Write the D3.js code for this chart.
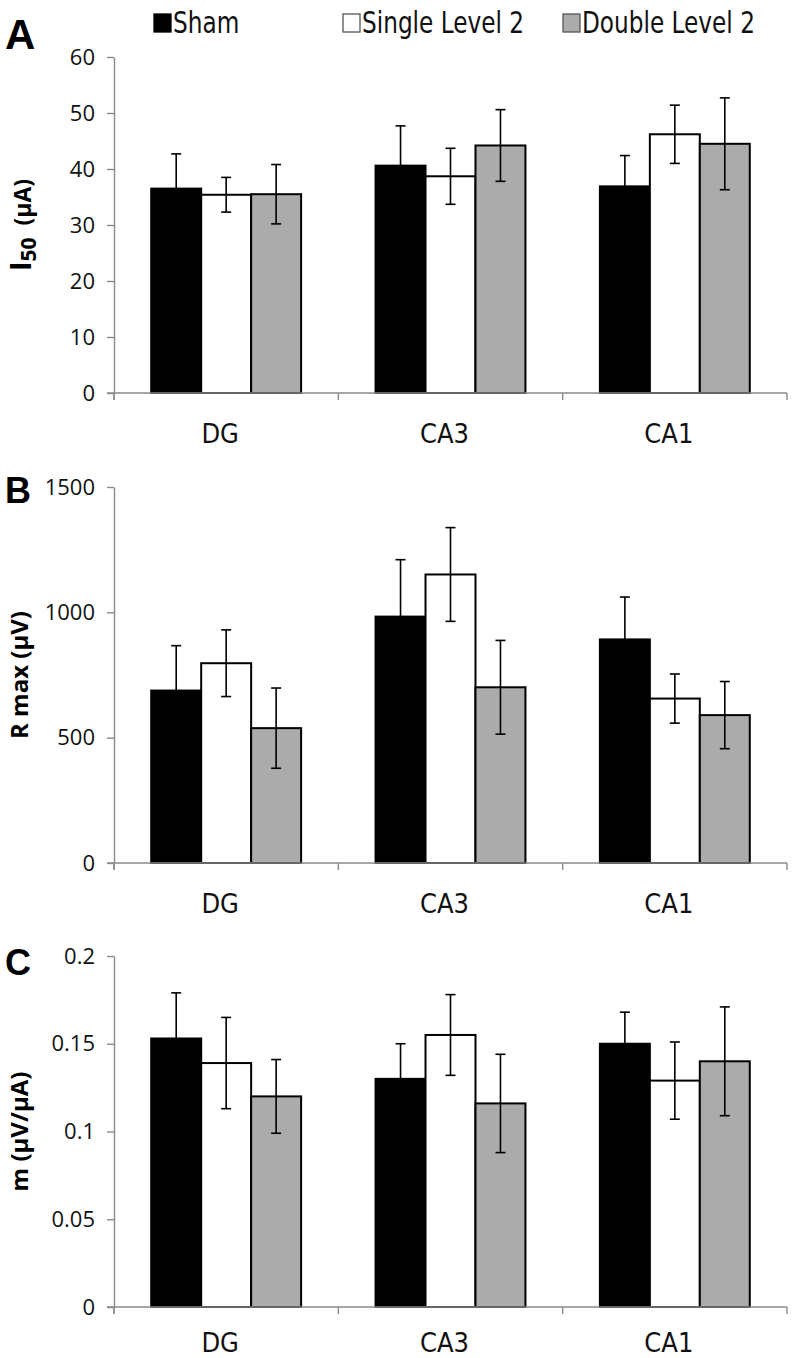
<!DOCTYPE html>
<html>
<head>
<meta charset="utf-8">
<script src="https://cdn.jsdelivr.net/npm/d3@7"></script>
<style>
  html, body { margin: 0; padding: 0; background: #fff; }
  svg { display: block; }
</style>
</head>
<body>
<div id="chart"></div>
<script>
// ---------- data ----------
const categories = ["DG", "CA3", "CA1"];
const seriesNames = ["Sham", "Single Level 2", "Double Level 2"];

const i50Sham = [36.5, 40.6, 36.9];
const i50ShamErr = [6.2, 7.1, 5.5];
const i50Single = [35.4, 38.7, 46.2];
const i50SingleErr = [3.1, 5.0, 5.2];
const i50Double = [35.5, 44.2, 44.5];
const i50DoubleErr = [5.3, 6.4, 8.2];

const rmaxSham = [688, 983, 892];
const rmaxShamErr = [179, 227, 169];
const rmaxSingle = [797, 1151, 656];
const rmaxSingleErr = [133, 187, 98];
const rmaxDouble = [538, 701, 590];
const rmaxDoubleErr = [160, 187, 134];

const slopeSham = [0.153, 0.130, 0.150];
const slopeShamErr = [0.026, 0.020, 0.018];
const slopeSingle = [0.139, 0.155, 0.129];
const slopeSingleErr = [0.026, 0.023, 0.022];
const slopeDouble = [0.120, 0.116, 0.140];
const slopeDoubleErr = [0.021, 0.028, 0.031];

const ticksA = [0, 10, 20, 30, 40, 50, 60];
const ticksB = [0, 500, 1000, 1500];
const ticksC = [0, 0.05, 0.1, 0.15, 0.2];

// ---------- style ----------
const W = 792, H = 1358;
const fills = { "Sham": "#000000", "Single Level 2": "#ffffff", "Double Level 2": "#ababab" };
const axisColor = "#8a8a8a";
const narrow = "'Liberation Sans Narrow','Arial Narrow','DejaVu Sans Condensed',sans-serif";
const tickFont = "'Open Sans','Liberation Sans',sans-serif";
const titleFont = "'Open Sans','Liberation Sans',sans-serif";

const svg = d3.select("#chart").append("svg").attr("width", W).attr("height", H);

const xLeft = 114, xRight = 787;
const x0 = d3.scaleBand().domain(categories).range([xLeft, xRight]).paddingInner(0).paddingOuter(0);
const x1 = d3.scaleBand().domain(seriesNames).range([0, x0.bandwidth()]).paddingInner(0).paddingOuter(0.745);

function build(means, errs) {
  return categories.map((c, i) => seriesNames.map((s, j) => ({ cat: c, series: s, value: means[j][i], err: errs[j][i] })));
}

const panels = [
  { top: 57, bottom: 393, domain: [0, 60], ticks: ticksA, letter: "A", letterY: 49, letterSize: 42, labelOff: 50,
    data: build([i50Sham, i50Single, i50Double], [i50ShamErr, i50SingleErr, i50DoubleErr]), title: "A" },
  { top: 487, bottom: 863, domain: [0, 1500], ticks: ticksB, letter: "B", letterY: 503, letterSize: 36, labelOff: 50,
    data: build([rmaxSham, rmaxSingle, rmaxDouble], [rmaxShamErr, rmaxSingleErr, rmaxDoubleErr]), title: "R max (µV)" },
  { top: 956, bottom: 1307, domain: [0, 0.2], ticks: ticksC, letter: "C", letterY: 975, letterSize: 36, labelOff: 45,
    data: build([slopeSham, slopeSingle, slopeDouble], [slopeShamErr, slopeSingleErr, slopeDoubleErr]), title: "m (µV/µA)" }
];

panels.forEach(p => {
  const g = svg.append("g");
  const y = d3.scaleLinear().domain(p.domain).range([p.bottom, p.top]);

  // y axis
  const yAxis = d3.axisLeft(y).tickValues(p.ticks).tickFormat(d => String(d)).tickSize(7).tickSizeOuter(0).tickPadding(12);
  const ga = g.append("g").attr("transform", `translate(${xLeft},0)`).call(yAxis);
  ga.select(".domain").attr("stroke", axisColor).attr("stroke-width", 1.4);
  ga.selectAll(".tick line").attr("stroke", axisColor).attr("stroke-width", 1.4);
  ga.selectAll(".tick text").attr("font-family", tickFont).attr("font-size", 22).attr("fill", "#111");
  g.append("line").attr("x1", xLeft).attr("x2", xLeft).attr("y1", y(0)).attr("y2", y(0) + 7)
    .attr("stroke", axisColor).attr("stroke-width", 1.4);

  // bars
  const groups = g.selectAll(".grp").data(p.data).join("g")
    .attr("transform", d => `translate(${x0(d[0].cat)},0)`);
  groups.selectAll("rect").data(d => d).join("rect")
    .attr("x", d => x1(d.series))
    .attr("width", x1.bandwidth())
    .attr("y", d => y(d.value))
    .attr("height", d => y(0) - y(d.value))
    .attr("fill", d => fills[d.series])
    .attr("stroke", "#000").attr("stroke-width", 2);

  // error bars
  const cap = 5;
  const eb = groups.selectAll(".eb").data(d => d).join("g").attr("class", "eb")
    .attr("transform", d => `translate(${x1(d.series) + x1.bandwidth() / 2},0)`);
  eb.append("line").attr("x1", 0).attr("x2", 0)
    .attr("y1", d => y(d.value + d.err)).attr("y2", d => y(d.value - d.err))
    .attr("stroke", "#000").attr("stroke-width", 1.6);
  eb.append("line").attr("x1", -cap).attr("x2", cap)
    .attr("y1", d => y(d.value + d.err)).attr("y2", d => y(d.value + d.err))
    .attr("stroke", "#000").attr("stroke-width", 1.6);
  eb.append("line").attr("x1", -cap).attr("x2", cap)
    .attr("y1", d => y(d.value - d.err)).attr("y2", d => y(d.value - d.err))
    .attr("stroke", "#000").attr("stroke-width", 1.6);

  // x axis line & boundary ticks
  g.append("line").attr("x1", xLeft - 7).attr("x2", xRight).attr("y1", y(0)).attr("y2", y(0))
    .attr("stroke", axisColor).attr("stroke-width", 1.6);
  const bounds = categories.map(c => x0(c)).concat([x0(categories[categories.length - 1]) + x0.bandwidth()]);
  g.selectAll(".bt").data(bounds).join("line")
    .attr("x1", d => d).attr("x2", d => d).attr("y1", y(0)).attr("y2", y(0) + 7)
    .attr("stroke", axisColor).attr("stroke-width", 1.4);

  // category labels
  g.selectAll(".cl").data(categories).join("text")
    .attr("x", d => x0(d) + x0.bandwidth() / 2 - 6)
    .attr("y", y(0) + p.labelOff)
    .attr("text-anchor", "middle")
    .attr("font-family", narrow).attr("font-size", 27).attr("fill", "#111")
    .text(d => d);

  // panel letter
  g.append("text").attr("x", 5).attr("y", p.letterY)
    .attr("font-family", "'Liberation Sans','Arial',sans-serif").attr("font-weight", "bold")
    .attr("font-size", p.letterSize).attr("fill", "#000").text(p.letter);

  // y title
  const mid = (p.top + p.bottom) / 2;
  const t = g.append("text")
    .attr("text-anchor", "middle").attr("font-family", titleFont).attr("font-weight", "bold")
    .attr("fill", "#000");
  if (p.title === "A") {
    t.attr("transform", `translate(31,${mid}) rotate(-90)`);
    t.append("tspan").attr("font-size", 29).text("I");
    t.append("tspan").attr("font-size", 21).attr("dy", 5).text("50");
    t.append("tspan").attr("font-size", 23).attr("dy", -5).text("\u00a0\u00a0(µA)");
  } else {
    t.attr("transform", `translate(28,${mid}) rotate(-90)`).attr("font-size", 24).text(p.title);
  }
});

// legend
const legendX = [154, 343, 563];
const leg = svg.append("g");
seriesNames.forEach((s, i) => {
  leg.append("rect").attr("x", legendX[i]).attr("y", 14).attr("width", 17).attr("height", 18)
    .attr("fill", fills[s]).attr("stroke", i === 0 ? "#000" : "#555").attr("stroke-width", 1.3);
  leg.append("text").attr("transform", `translate(${legendX[i] + 19},33) scale(0.86,1)`)
    .attr("font-family", narrow).attr("font-size", 30).attr("fill", "#111").text(s);
});
</script>
</body>
</html>
